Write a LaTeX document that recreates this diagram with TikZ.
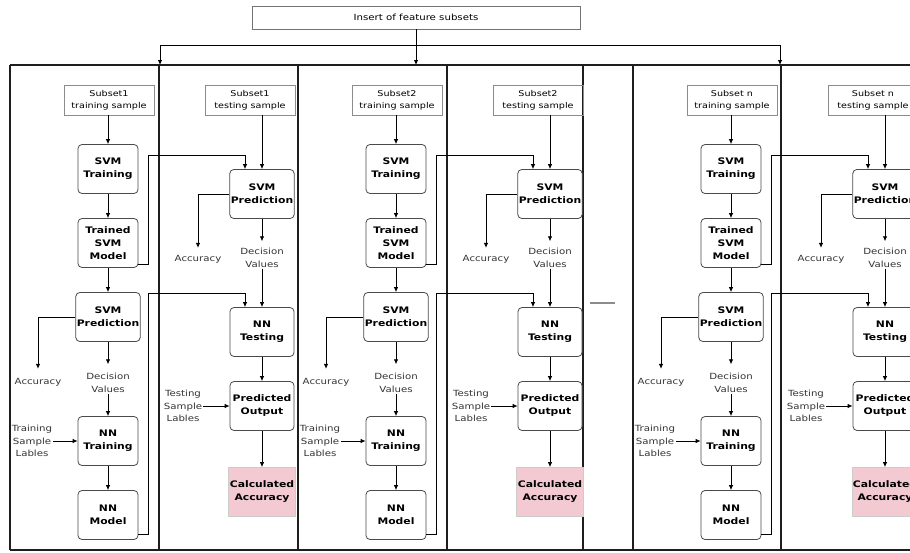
\documentclass[tikz,border=0pt]{standalone}
\usepackage{fontspec}
\setmainfont{DejaVu Sans}[FakeStretch=1.2]
\usetikzlibrary{arrows.meta,positioning,calc}
\definecolor{boxline}{HTML}{4A4A4A}
\definecolor{wallcol}{HTML}{1E1E1E}
\definecolor{blush}{HTML}{F3C9D2}
\definecolor{labtext}{HTML}{333333}

\begin{document}
\begin{tikzpicture}[x=1pt,y=-1pt,
   blk/.style={draw=boxline,line width=0.8pt,rounded corners=4pt,fill=white,minimum width=60pt,minimum height=49pt,align=center,inner sep=1pt,font=\fontsize{9}{13}\selectfont\bfseries},
   sub/.style={draw=black!45,line width=0.6pt,minimum width=90pt,minimum height=30pt,align=center,inner sep=1pt,font=\fontsize{8}{12}\selectfont},
   lbl/.style={align=center,inner sep=1pt,text=labtext,font=\fontsize{8.5}{12.5}\selectfont},
   arr/.style={-{Latex[length=5pt,width=4.5pt]},line width=0.8pt},
   wall/.style={line width=2pt,wallcol}]
  \clip (0,0) rectangle (910,552);
  % feature subsets on top
  \node[draw=black!55,line width=0.6pt,minimum width=328pt,minimum height=23pt,font=\fontsize{8.5}{10}\selectfont] (ins) at (416,17.5) {Insert of feature subsets};
  \coordinate (busL) at (160,45);
  \coordinate (busR) at (780,45);
  \coordinate (in1) at (160,65);
  \coordinate (in2) at (416,65);
  \coordinate (in3) at (780,65);
  \draw[arr] (ins) -- (in2);
  \draw[line width=0.8pt] (busL) -- (busR);
  \draw[arr] (busL) -- (in1);
  \draw[arr] (busR) -- (in3);
  % panel walls
  \draw[wall] (10,65) -- (920,65);
  \draw[wall] (10,550) -- (920,550);
  \foreach \x in {10,159,298,447,583,633,781}
    \draw[wall] (\x,65) -- (\x,550);
  \draw[black!45,line width=1.2pt] (590,303) -- (615,303);
  % one training and one testing panel per subset
  \foreach \d/\k/\t in {0/1/1,288/2/2,623/n/{\ n}} {
    \node[sub] (tr\k) at (109+\d,100) {Subset\t\\training sample};
    \node[blk] (st\k) at (108+\d,169) {SVM\\Training};
    \node[blk] (tm\k) at (108+\d,243) {Trained\\SVM\\Model};
    \node[blk] (sp\k) at (108+\d,317) {SVM\\Prediction};
    \node[lbl] (dv\k) at (108+\d,383) {Decision\\Values};
    \node[blk] (nt\k) at (108+\d,441) {NN\\Training};
    \node[blk] (nm\k) at (108+\d,515) {NN\\Model};
    \node[lbl] (ac\k) at (38+\d,382) {Accuracy};
    \node[lbl] (tl\k) at (32+\d,441) {Training\\Sample\\Lables};
    \node[sub] (te\k) at (250+\d,100) {Subset\t\\testing sample};
    \node[blk,minimum width=64pt] (sq\k) at (262+\d,194) {SVM\\Prediction};
    \node[lbl] (ad\k) at (198+\d,259) {Accuracy};
    \node[lbl] (dw\k) at (262+\d,258) {Decision\\Values};
    \node[blk,minimum width=64pt] (ns\k) at (262+\d,332) {NN\\Testing};
    \node[blk,minimum width=64pt] (po\k) at (262+\d,406) {Predicted\\Output};
    \node[lbl] (sl\k) at (183+\d,406) {Testing\\Sample\\Lables};
    \node[blk,minimum width=64pt,fill=blush,draw=black!20,rounded corners=0pt] (ca\k) at (262+\d,492) {Calculated\\Accuracy};
    \coordinate (fa\k) at (148+\d,155);
    \coordinate (fb\k) at (148+\d,293);
    \draw[arr] (st\k.north |- tr\k.south) -- (st\k);
    \draw[arr] (st\k) -- (tm\k);
    \draw[arr] (tm\k) -- (sp\k);
    \draw[arr,shorten >=8pt] (sp\k) -- (dv\k);
    \draw[arr] (dv\k) -- (nt\k);
    \draw[arr] (nt\k) -- (nm\k);
    \draw[arr,shorten >=8pt] (sp\k.west) -| (ac\k);
    \draw[arr] (tl\k) -- (nt\k);
    \draw[arr] ([yshift=4pt]tm\k.south east) -| (fa\k) -| ([xshift=-17pt]sq\k.north);
    \draw[arr] ([yshift=6pt]nm\k.south east) -| (fb\k) -| ([xshift=-17pt]ns\k.north);
    \draw[arr] (sq\k.north |- te\k.south) -- (sq\k);
    \draw[arr,shorten >=6pt] (sq\k) -- (dw\k);
    \draw[arr,shorten >=6pt] (sq\k.west) -| (ad\k);
    \draw[arr] (dw\k) -- (ns\k);
    \draw[arr] (ns\k) -- (po\k);
    \draw[arr] (po\k) -- (ca\k);
    \draw[arr] (sl\k) -- (po\k);
  }
\end{tikzpicture}
\end{document}
